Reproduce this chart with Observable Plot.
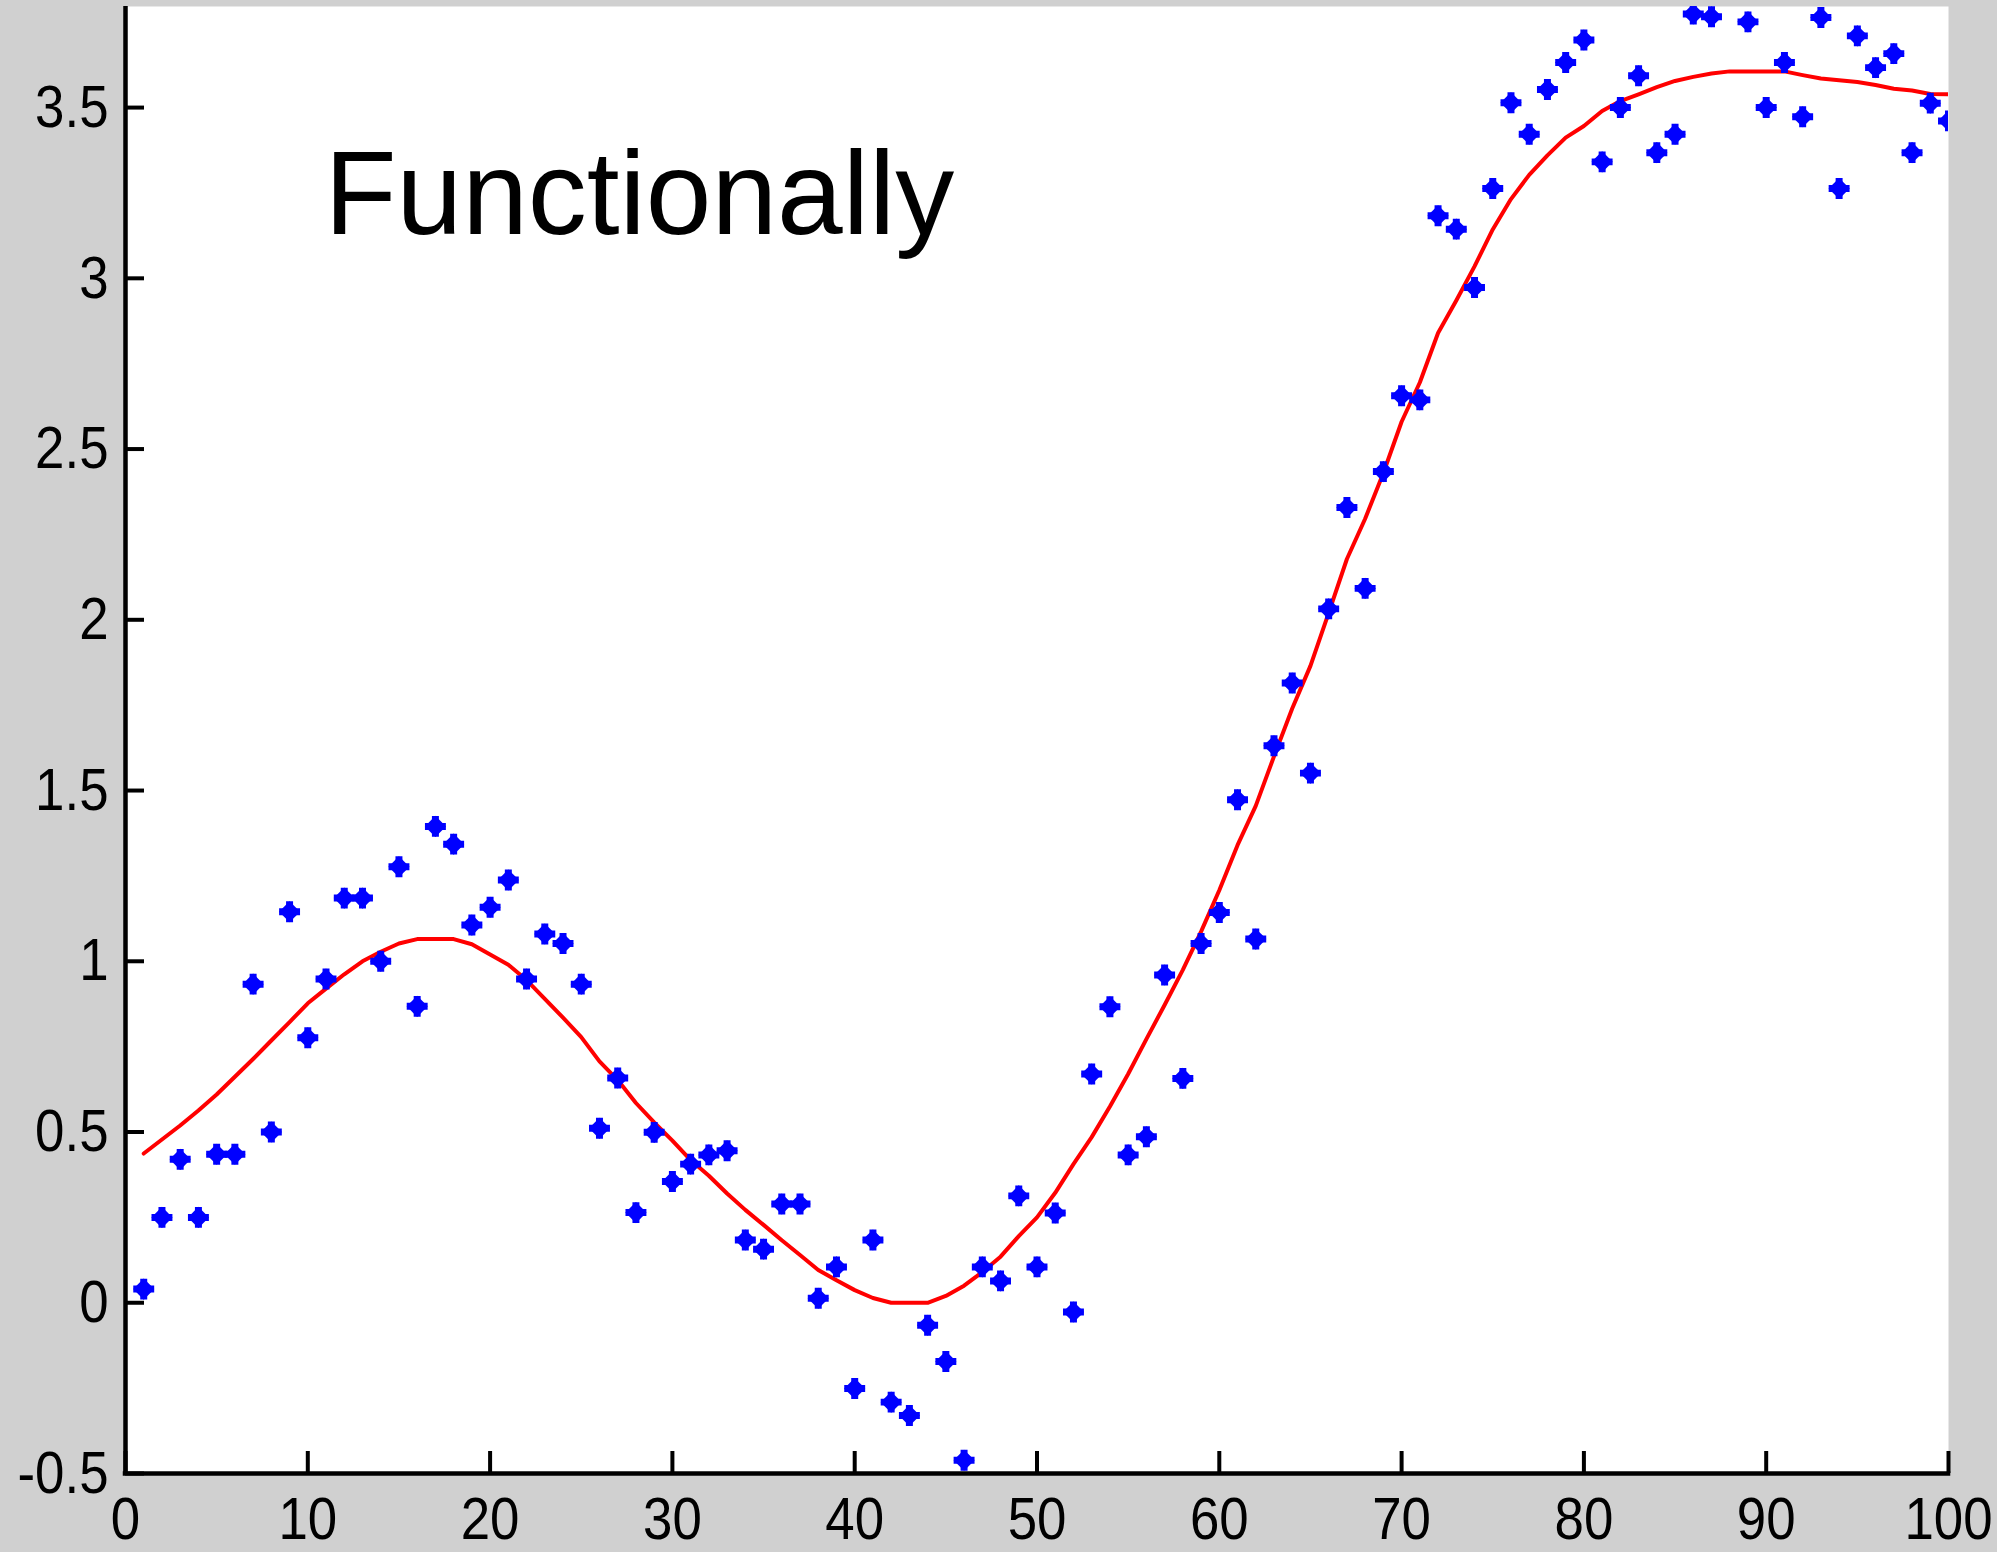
<!DOCTYPE html>
<html><head><meta charset="utf-8">
<script src="https://cdn.jsdelivr.net/npm/d3@7"></script>
<script src="https://cdn.jsdelivr.net/npm/@observablehq/plot@0.6"></script>
<style>html,body{margin:0;padding:0;background:#d0d0d0;overflow:hidden}</style>
</head><body><div id="chart"></div>
<script>
const sampleX = [1,2,3,4,5,6,7,8,9,10,11,12,13,14,15,16,17,18,19,20,
  21,22,23,24,25,26,27,28,29,30,31,32,33,34,35,36,37,38,39,40,
  41,42,43,44,45,46,47,48,49,50,51,52,53,54,55,56,57,58,59,60,
  61,62,63,64,65,66,67,68,69,70,71,72,73,74,75,76,77,78,79,80,
  81,82,83,84,85,86,87,88,89,90,91,92,93,94,95,96,97,98,99,100];
const sampleY = [0.04,0.25,0.42,0.25,0.435,0.435,0.933,0.50,1.145,0.776,
  0.948,1.185,1.185,1.00,1.277,0.868,1.395,1.343,1.106,1.158,
  1.238,0.948,1.08,1.052,0.933,0.511,0.658,0.264,0.499,0.355,
  0.406,0.433,0.445,0.184,0.157,0.289,0.289,0.013,0.105,-0.251,
  0.184,-0.291,-0.33,-0.066,-0.172,-0.461,0.105,0.064,0.313,0.105,
  0.263,-0.027,0.67,0.867,0.433,0.486,0.96,0.657,1.052,1.143,
  1.473,1.065,1.631,1.815,1.551,2.032,2.329,2.092,2.434,2.656,
  2.644,3.183,3.144,2.973,3.263,3.514,3.422,3.553,3.632,3.698,
  3.341,3.50,3.593,3.368,3.422,3.774,3.766,3.85,3.751,3.50,
  3.632,3.473,3.764,3.263,3.71,3.617,3.658,3.368,3.513,3.461];
const fitY = [0.437,0.478,0.519,0.563,0.61,0.662,0.714,0.768,0.822,0.877,
  0.92,0.962,1.0,1.028,1.052,1.065,1.065,1.065,1.05,1.02,
  0.99,0.945,0.89,0.835,0.778,0.707,0.652,0.585,0.528,0.475,
  0.418,0.372,0.32,0.272,0.228,0.183,0.14,0.096,0.066,0.037,
  0.014,0.0,0.0,0.0,0.02,0.05,0.09,0.135,0.195,0.25,
  0.322,0.406,0.485,0.575,0.67,0.772,0.872,0.975,1.087,1.208,
  1.34,1.455,1.60,1.74,1.865,2.02,2.178,2.296,2.43,2.58,
  2.695,2.84,2.935,3.035,3.143,3.232,3.303,3.36,3.412,3.446,
  3.49,3.519,3.539,3.56,3.578,3.59,3.60,3.606,3.606,3.606,
  3.606,3.595,3.585,3.58,3.575,3.566,3.555,3.55,3.54,3.539];
const xTicks = [0,10,20,30,40,50,60,70,80,90,100];
const xTickLabels = ["0","10","20","30","40","50","60","70","80","90","100"];
const yTicks = [-0.5,0,0.5,1,1.5,2,2.5,3,3.5];
const yTickLabels = ["-0.5","0","0.5","1","1.5","2","2.5","3","3.5"];
const titleText = "Functionally";

const points = sampleX.map((x, i) => ({x, y: sampleY[i]}));
const fit = sampleX.map((x, i) => ({x, y: fitY[i]}));

const chart = Plot.plot({
  width: 1997, height: 1552,
  marginLeft: 125, marginRight: 49, marginTop: 6, marginBottom: 79,
  style: {background: "#d0d0d0", fontFamily: "'Liberation Sans', Arial, sans-serif", color: "black"},
  x: {domain: [0, 100]},
  y: {domain: [-0.5, 3.796]},
  marks: [
    Plot.frame({fill: "white", stroke: "none"}),
    Plot.line(fit, {x: "x", y: "y", stroke: "#ff0000", strokeWidth: 4, clip: true}),
    Plot.dot(points, {x: "x", y: "y", symbol: "diamond2", r: 9.5, fill: "#0000ff", stroke: "none", clip: true}),
    Plot.dot(points, {x: "x", y: "y", symbol: "cross", r: 8.8, fill: "#0000ff", stroke: "none", clip: true}),
    Plot.text([titleText], {text: d => d, frameAnchor: "top-left", dx: 199, dy: 144, textAnchor: "start", lineAnchor: "top", fontSize: 118, fill: "black"}),
    Plot.axisX({ticks: xTicks, tickSize: -22, tickPadding: 45, strokeWidth: 4, fontSize: 60,
      tickFormat: d => xTickLabels[xTicks.indexOf(d)], label: null}),
    Plot.axisY({ticks: yTicks, tickSize: -19, tickPadding: 36, strokeWidth: 4, fontSize: 60,
      tickFormat: d => yTickLabels[yTicks.indexOf(d)], label: null}),
    Plot.ruleX([0], {stroke: "black", strokeWidth: 4.5}),
    Plot.ruleY([-0.5], {stroke: "black", strokeWidth: 4.5, strokeLinecap: "square"})
  ]
});

chart.querySelectorAll('g[aria-label$="tick label"] text').forEach(t => {
  const tr = t.getAttribute("transform") || "";
  t.setAttribute("transform", tr + " scale(0.88,1)");
});

document.getElementById("chart").appendChild(chart);
</script>
</body></html>
